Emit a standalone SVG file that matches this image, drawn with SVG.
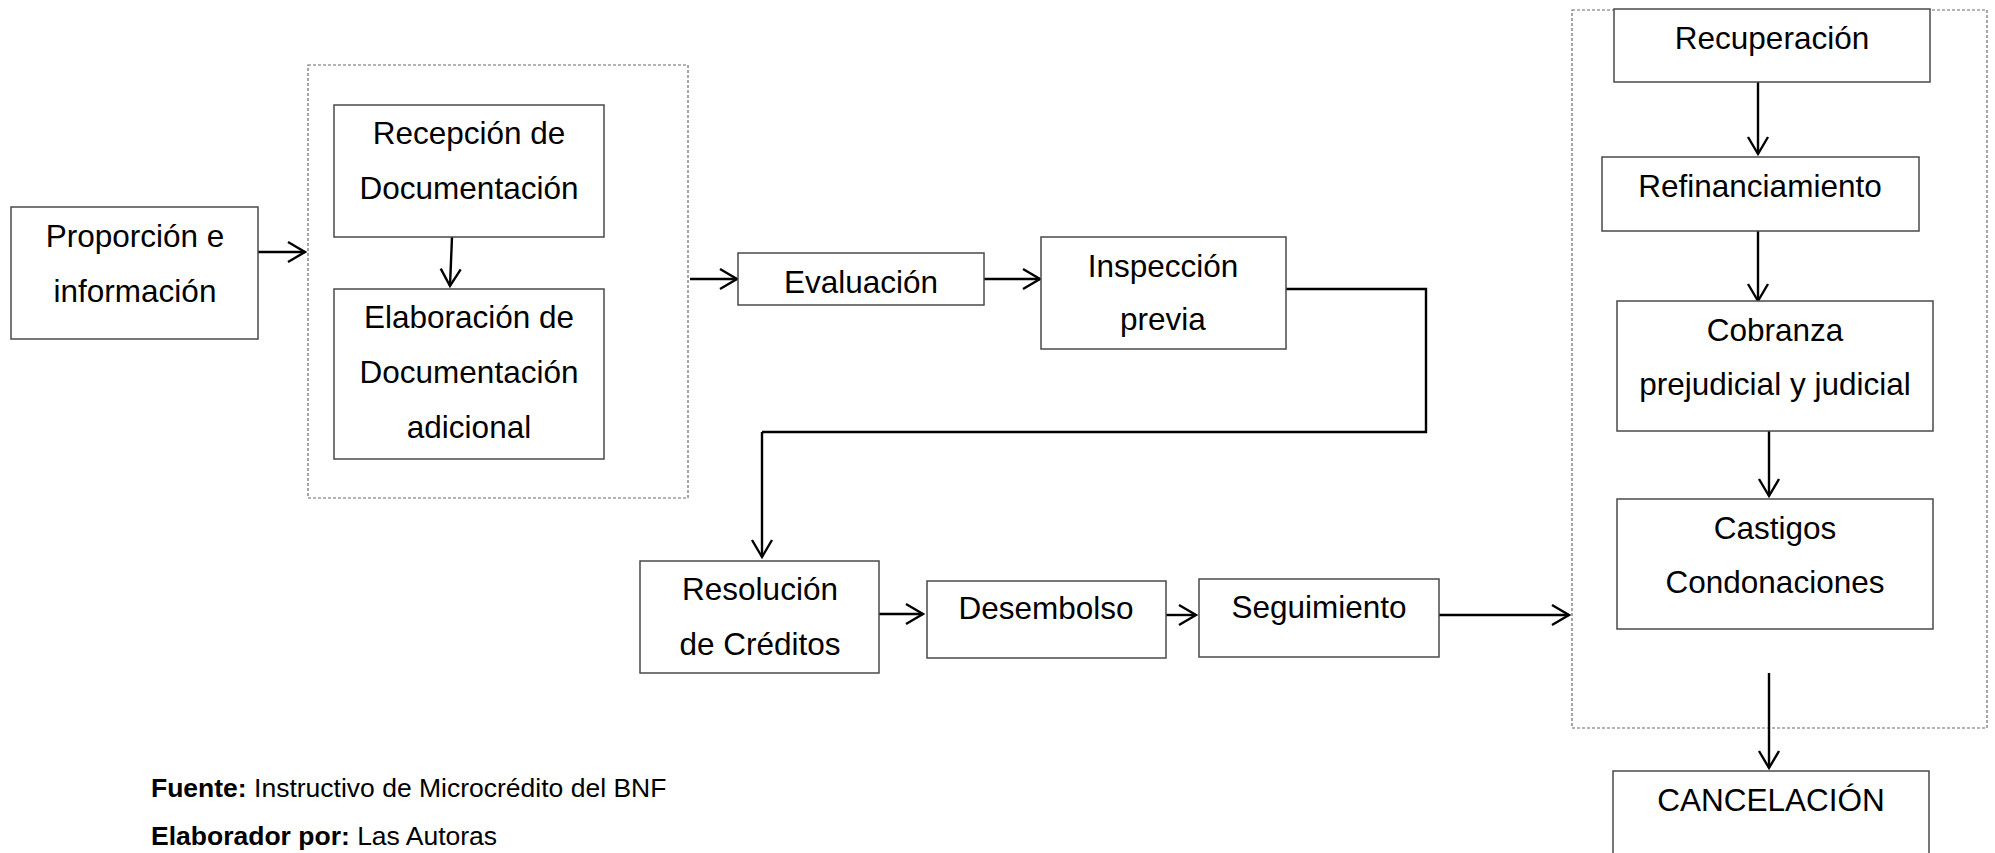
<svg xmlns="http://www.w3.org/2000/svg" width="1995" height="853" viewBox="0 0 1995 853">
  <style>
    .box { fill: #ffffff; stroke: #4a4a4a; stroke-width: 1.5; }
    .group { fill: none; stroke: #6a6a6a; stroke-width: 1.2; stroke-dasharray: 3 2; }
    .lbl { font-family: "Liberation Sans", Arial, sans-serif; font-size: 31.5px; fill: #000; text-anchor: middle; }
    .note { font-family: "Liberation Sans", Arial, sans-serif; font-size: 26.5px; fill: #000; }
    .bold { font-weight: bold; }
    .wire { fill: none; stroke: #000; stroke-width: 2.4; }
    .arrow { fill: none; stroke: #000; stroke-width: 2.4; marker-end: url(#head); }
  </style>
  <defs>
    <marker id="head" markerUnits="userSpaceOnUse" viewBox="0 0 24 24" markerWidth="24" markerHeight="24" refX="21" refY="12" orient="auto">
      <path d="M4,2 L21,12 L4,22" fill="none" stroke="#000" stroke-width="2.4"/>
    </marker>
  </defs>

  <rect width="1995" height="853" fill="#ffffff"/>

  <!-- dotted grouping frames -->
  <g id="frame-documentacion">
    <rect class="group" x="308" y="65" width="380" height="433"/>
  </g>
  <g id="frame-recuperacion">
    <rect class="group" x="1572" y="10" width="415" height="718"/>
  </g>

  <!-- connectors -->
  <g id="connectors">
    <line class="arrow" x1="258" y1="252" x2="305" y2="252"/>
    <line class="arrow" x1="452" y1="237" x2="450" y2="286"/>
    <line class="arrow" x1="690" y1="279" x2="737" y2="279"/>
    <line class="arrow" x1="984" y1="279" x2="1040" y2="279"/>
    <polyline class="wire" points="1286,289 1426,289 1426,432 762,432"/>
    <line class="arrow" x1="762" y1="432" x2="762" y2="557"/>
    <line class="arrow" x1="879" y1="614" x2="923" y2="614"/>
    <line class="arrow" x1="1166" y1="615" x2="1196" y2="615"/>
    <line class="arrow" x1="1439" y1="615" x2="1569" y2="615"/>
    <line class="arrow" x1="1758" y1="82" x2="1758" y2="154"/>
    <line class="arrow" x1="1758" y1="231" x2="1758" y2="301"/>
    <line class="arrow" x1="1769" y1="431" x2="1769" y2="496"/>
    <line class="arrow" x1="1769" y1="673" x2="1769" y2="768"/>
  </g>

  <g id="proporcion">
    <rect class="box" x="11" y="207" width="247" height="132"/>
    <text class="lbl" x="135" y="247">Proporción e</text>
    <text class="lbl" x="135" y="302">información</text>
  </g>

  <g id="recepcion">
    <rect class="box" x="334" y="105" width="270" height="132"/>
    <text class="lbl" x="469" y="144">Recepción de</text>
    <text class="lbl" x="469" y="199">Documentación</text>
  </g>

  <g id="elaboracion">
    <rect class="box" x="334" y="289" width="270" height="170"/>
    <text class="lbl" x="469" y="328">Elaboración de</text>
    <text class="lbl" x="469" y="383">Documentación</text>
    <text class="lbl" x="469" y="438">adicional</text>
  </g>

  <g id="evaluacion">
    <rect class="box" x="738" y="253" width="246" height="52"/>
    <text class="lbl" x="861" y="293">Evaluación</text>
  </g>

  <g id="inspeccion">
    <rect class="box" x="1041" y="237" width="245" height="112"/>
    <text class="lbl" x="1163" y="277">Inspección</text>
    <text class="lbl" x="1163" y="330">previa</text>
  </g>

  <g id="resolucion">
    <rect class="box" x="640" y="561" width="239" height="112"/>
    <text class="lbl" x="760" y="600">Resolución</text>
    <text class="lbl" x="760" y="655">de Créditos</text>
  </g>

  <g id="desembolso">
    <rect class="box" x="927" y="581" width="239" height="77"/>
    <text class="lbl" x="1046" y="619">Desembolso</text>
  </g>

  <g id="seguimiento">
    <rect class="box" x="1199" y="579" width="240" height="78"/>
    <text class="lbl" x="1319" y="618">Seguimiento</text>
  </g>

  <g id="recuperacion">
    <rect class="box" x="1614" y="9" width="316" height="73"/>
    <text class="lbl" x="1772" y="49">Recuperación</text>
  </g>

  <g id="refinanciamiento">
    <rect class="box" x="1602" y="157" width="317" height="74"/>
    <text class="lbl" x="1760" y="197">Refinanciamiento</text>
  </g>

  <g id="cobranza">
    <rect class="box" x="1617" y="301" width="316" height="130"/>
    <text class="lbl" x="1775" y="341">Cobranza</text>
    <text class="lbl" x="1775" y="395">prejudicial y judicial</text>
  </g>

  <g id="castigos">
    <rect class="box" x="1617" y="499" width="316" height="130"/>
    <text class="lbl" x="1775" y="539">Castigos</text>
    <text class="lbl" x="1775" y="593">Condonaciones</text>
  </g>

  <g id="cancelacion">
    <rect class="box" x="1613" y="771" width="316" height="100"/>
    <text class="lbl" x="1771" y="811">CANCELACIÓN</text>
  </g>

  <g id="notes">
    <text class="note" x="151" y="797"><tspan class="bold">Fuente:</tspan> Instructivo de Microcrédito del BNF</text>
    <text class="note" x="151" y="845"><tspan class="bold">Elaborador por:</tspan> Las Autoras</text>
  </g>
</svg>
